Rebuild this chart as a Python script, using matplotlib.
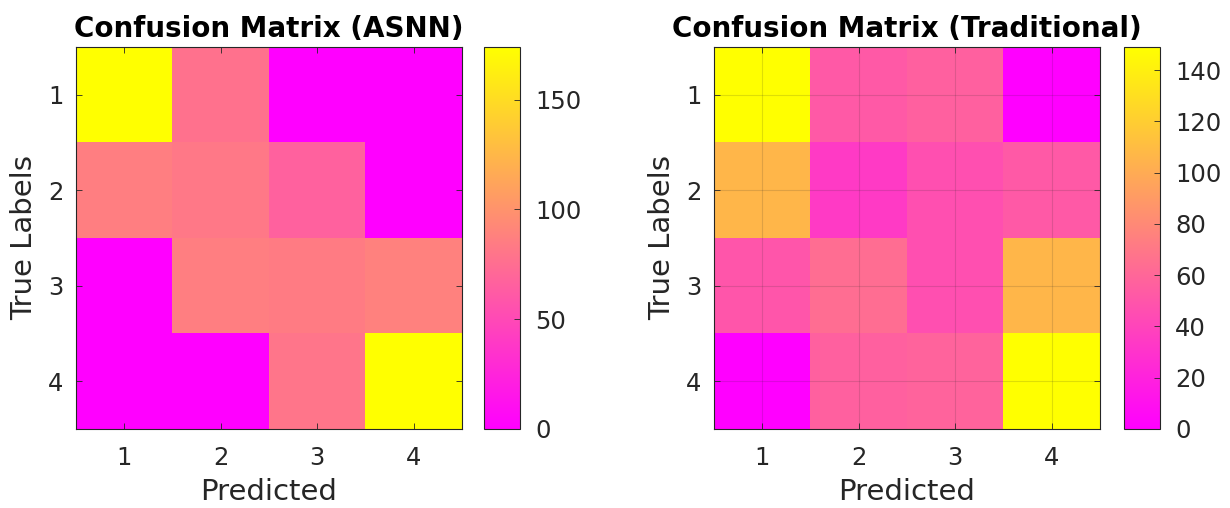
import numpy as np
import matplotlib as mpl
mpl.use('Agg')
from matplotlib import pyplot as plt

# class labels
classes = [1, 2, 3, 4]

# confusion matrices (rows = true labels, cols = predicted)
cm_asnn = [[174, 78, 0, 0],
           [86, 82, 66, 0],
           [0, 86, 84, 88],
           [0, 0, 80, 174]]

cm_trad = [[149, 52, 56, 0],
           [106, 34, 46, 52],
           [50, 64, 46, 106],
           [0, 56, 58, 149]]

titles = ['Confusion Matrix (ASNN)', 'Confusion Matrix (Traditional)']
cbar_ticks = [[0, 50, 100, 150], [0, 20, 40, 60, 80, 100, 120, 140]]

txtColor = '#262626'
mpl.rc('font', **{'family': 'DejaVu Sans', 'size': 14})
mpl.rcParams['text.color'] = txtColor
mpl.rcParams['axes.labelcolor'] = txtColor
mpl.rcParams['xtick.color'] = txtColor
mpl.rcParams['ytick.color'] = txtColor

f = plt.figure(figsize=(12.3, 5.08), dpi=100)
W, H = 1230.0, 508.0

# axes positions in pixels: (left, right), shared vertical extent
axBoxes = [(76, 462), (714, 1100)]
cbBoxes = [(484, 520), (1124, 1160)]
top, bottom = 47, 429

for k, cm in enumerate([cm_asnn, cm_trad]):
    M = np.array(cm, dtype=float)
    l, r = axBoxes[k]
    ax = f.add_axes([l / W, 1 - bottom / H, (r - l) / W, (bottom - top) / H])
    im = ax.imshow(M, cmap='spring', vmin=0, vmax=M.max(),
                   extent=[0.5, 4.5, 4.5, 0.5], aspect='auto',
                   interpolation='nearest')
    ax.set_xticks(classes)
    ax.set_yticks(classes)
    ax.tick_params(direction='in', top=True, right=True, length=4,
                   width=0.6, labelsize=17.5)
    ax.tick_params(axis='x', pad=12)
    ax.tick_params(axis='y', pad=9)
    for sp in ax.spines.values():
        sp.set_color(txtColor)
        sp.set_linewidth(0.8)
    ax.set_xlabel('Predicted', fontsize=21, labelpad=6)
    ax.set_ylabel('True Labels', fontsize=21, labelpad=7)
    ax.set_title(titles[k], fontsize=20, fontweight='bold', color='black', pad=7)
    if k == 1:
        ax.grid(True, color='#262626', alpha=0.15, linewidth=0.8)
        ax.set_axisbelow(False)

    cl, cr = cbBoxes[k]
    cax = f.add_axes([cl / W, 1 - bottom / H, (cr - cl) / W, (bottom - top) / H])
    cb = f.colorbar(im, cax=cax)
    cb.set_ticks(cbar_ticks[k])
    cax.tick_params(direction='in', length=4, width=0.6, labelsize=17.5, pad=11)
    cb.outline.set_edgecolor(txtColor)
    cb.outline.set_linewidth(0.8)

f.savefig('out.png', dpi=100)
plt.close(f)
